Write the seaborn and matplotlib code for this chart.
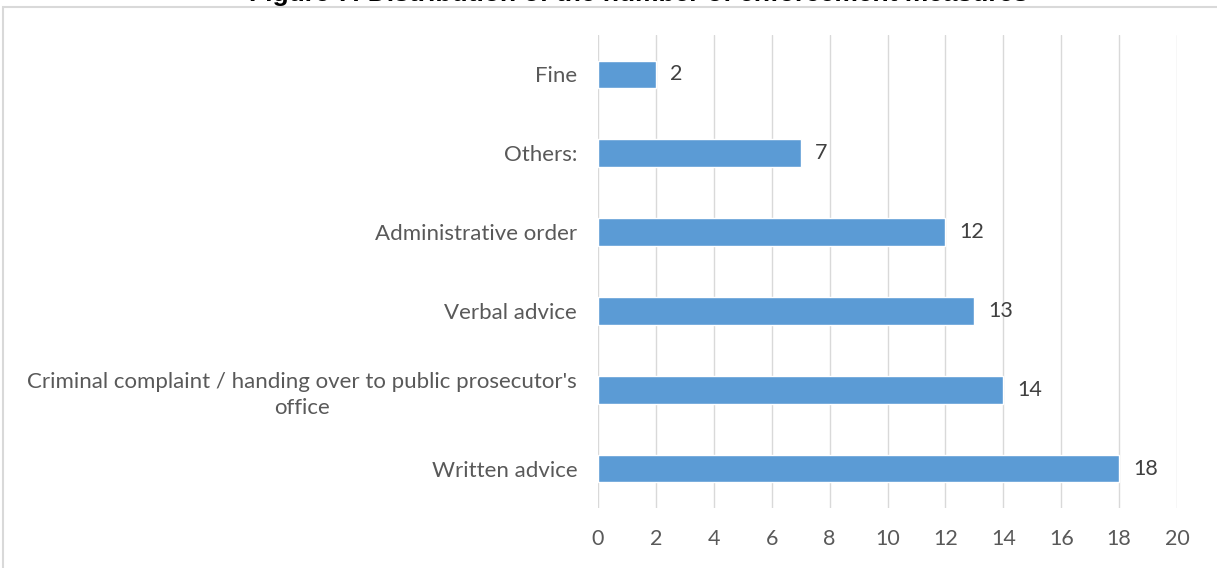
import matplotlib
matplotlib.use("Agg")
import matplotlib.pyplot as plt
import matplotlib.patches as mpatches
import seaborn as sns
import pandas as pd

categories = ["Fine", "Others:", "Administrative order", "Verbal advice",
              "Criminal complaint / handing over to public prosecutor's\noffice",
              "Written advice"]
values = [2, 7, 12, 13, 14, 18]
xticks = [0, 2, 4, 6, 8, 10, 12, 14, 16, 18, 20]
title = "Figure 7: Distribution of the number of enforcement measures"

sns.set_theme(style="white")
plt.rcParams['font.family'] = ['Lato', 'DejaVu Sans']

df = pd.DataFrame({"cat": categories, "val": values})

fig = plt.figure(figsize=(12.17, 5.68), dpi=100)
ax = fig.add_axes([598/1217, 1 - 508/568, (1177-598)/1217, (508-35)/568])

sns.barplot(data=df, x="val", y="cat", orient="h", color="#5B9BD5",
            saturation=1, width=0.35, ax=ax)

ax.set_xlim(0, 20)
ax.set_ylim(5.5, -0.5)
ax.set_xticks(xticks)
ax.set_xticklabels([str(t) for t in xticks])
ax.grid(axis="x", color="#D9D9D9", linewidth=1)
ax.set_axisbelow(True)
for s in ax.spines.values():
    s.set_visible(False)
ax.tick_params(axis="x", length=0, pad=15, labelsize=15.5, labelcolor="#595959")
ax.tick_params(axis="y", length=0, pad=15, labelsize=16, labelcolor="#595959")
for lab in ax.get_yticklabels():
    lab.set_multialignment("center")
    lab.set_linespacing(1.4)
ax.set_xlabel("")
ax.set_ylabel("")

for i, v in enumerate(values):
    ax.annotate(str(v), xy=(v, i), xytext=(10, 0), textcoords="offset points",
                va="center", ha="left", fontsize=15.5, color="#404040")

# chart border
fig.patches.append(mpatches.Rectangle((3/1217, -0.1), 1.2, 1 - 7/568 + 0.1,
                                      transform=fig.transFigure, fill=False,
                                      edgecolor="#D9D9D9", linewidth=1.5))
fig.text(0.5 + 30/1217, 1.0 - 1/568, title, ha="center", va="baseline", fontsize=19,
         fontweight="bold", color="#000000", family=["Liberation Sans", "DejaVu Sans"])

fig.savefig("out.png", dpi=100)
